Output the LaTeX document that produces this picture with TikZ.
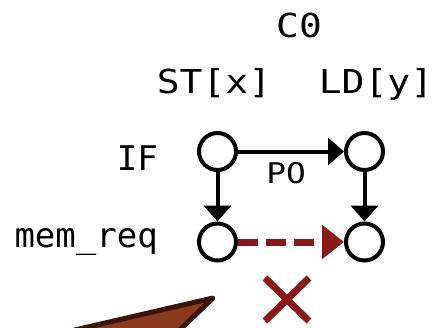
\documentclass[tikz,border=0pt]{standalone}
\usepackage{fontspec}
\newfontfamily\codefont{DejaVu Sans Mono}
\newfontfamily\widecodefont[FakeStretch=1.15]{DejaVu Sans Mono}
\usetikzlibrary{arrows.meta}
\definecolor{edgered}{RGB}{139,24,24}
\definecolor{wedgefill}{RGB}{139,58,30}
\definecolor{wedgeline}{RGB}{58,20,8}
\tikzset{
  event/.style={circle, draw=black, line width=4pt, fill=white, minimum size=37pt, inner sep=0pt},
  heading/.style={font=\widecodefont\fontsize{33}{33}\selectfont, inner sep=0pt},
  rowlabel/.style={font=\codefont\fontsize{34}{34}\selectfont, inner sep=0pt},
  smalllabel/.style={font=\widecodefont\fontsize{28.5}{28.5}\selectfont, inner sep=0pt},
  po/.style={line width=4pt, -{Triangle[length=16pt,width=27pt]}},
  rf/.style={line width=7pt, draw=edgered, dash pattern=on 20pt off 8pt,
             -{Triangle[length=22pt,width=33pt]}},
}
\begin{document}
\begin{tikzpicture}[x=1pt,y=-1pt]
\useasboundingbox (0,0) rectangle (434,327);

% column and row headings
\node[heading, anchor=base] (core) at (299,37) {C0};
\node[heading, anchor=base] (hst) at (214,93) {ST[x]};
\node[heading, anchor=base] (hld) at (376,93) {LD[y]};
\node[rowlabel, anchor=base east] (rif) at (158,170) {IF};
\node[rowlabel, anchor=base east] (rmem) at (158,247) {mem\_req};

% events
\node[event] (stif) at (217.5,151.5) {};
\node[event] (ldif) at (364.5,151.5) {};
\node[event] (stmem) at (217.5,242) {};
\node[event] (ldmem) at (364.5,242) {};

% edges
\draw[po] (stif) -- (ldif);
\node[smalllabel, anchor=base] (polabel) at (286,183) {PO};
\draw[po] (stif) -- (stmem);
\draw[po] (ldif) -- (ldmem);
\draw[rf] (stmem) -- (ldmem);

% forbidden mark
\coordinate (xa) at (265,278);
\coordinate (xb) at (309,321);
\coordinate (xc) at (309,278);
\coordinate (xd) at (265,321);
\draw[edgered, line width=7pt] (xa) -- (xb) (xc) -- (xd);

% wedge entering from below
\begin{scope}
  \clip (0,0) rectangle (434,327);
  \draw[wedgeline, fill=wedgefill, line width=5pt, line join=round]
    (213,298) -- (10,345) -- (164,345) -- cycle;
\end{scope}
\end{tikzpicture}
\end{document}
